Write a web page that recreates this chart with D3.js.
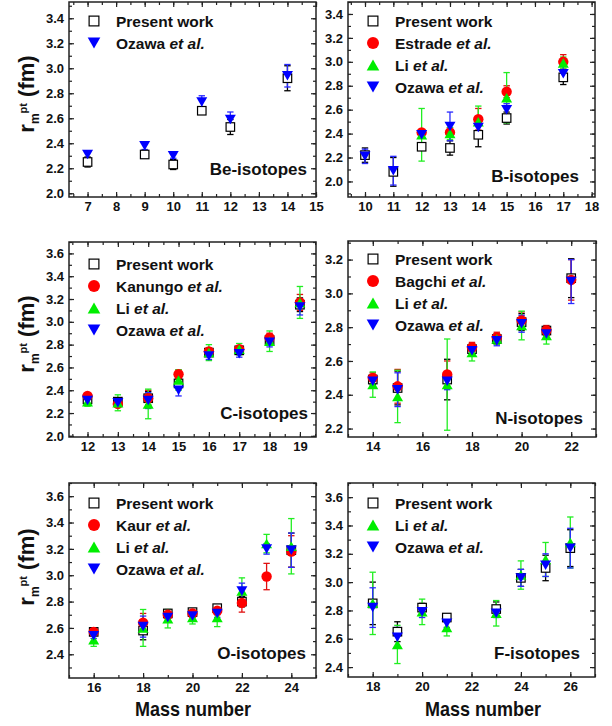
<!DOCTYPE html>
<html>
<head>
<meta charset="utf-8">
<script src="https://cdn.jsdelivr.net/npm/d3@7"></script>
<style>
  body { margin: 0; background: #fff; }
  svg { display: block; }
  text { font-family: "Liberation Sans", Arial, sans-serif; font-weight: bold; fill: #111; }
</style>
</head>
<body>
<svg id="fig" width="612" height="726"></svg>
<script>
// ---- data (point-matter radius, fm) ----
const beMass = [7, 9, 10, 11, 12, 14];
const bePresent = [2.25, 2.31, 2.23, 2.66, 2.53, 2.92];
const bePresentErr = [0.04, 0.02, 0.04, 0.02, 0.06, 0.10];
const beOzawa = [2.31, 2.38, 2.30, 2.73, 2.59, 2.94];
const beOzawaErr = [0.03, 0.03, 0.02, 0.05, 0.06, 0.09];

const bMass = [10, 11, 12, 13, 14, 15, 17];
const bPresent = [2.22, 2.08, 2.29, 2.28, 2.39, 2.53, 2.87];
const bPresentErr = [0.06, 0.12, 0.02, 0.06, 0.10, 0.05, 0.06];
const bEstrade = [null, null, 2.41, 2.41, 2.52, 2.75, 3.00];
const bEstradeErr = [null, null, 0.02, 0.04, 0.09, 0.05, 0.06];
const bLi = [null, null, 2.39, 2.40, 2.50, 2.70, 2.99];
const bLiErr = [null, null, 0.22, 0.05, 0.13, 0.21, 0.05];
const bOzawa = [2.21, 2.09, 2.39, 2.46, 2.45, 2.60, 2.90];
const bOzawaErr = [0.06, 0.12, 0.03, 0.12, 0.06, 0.05, 0.06];

const cMass = [12, 13, 14, 15, 16, 17, 18, 19];
const cPresent = [2.32, 2.30, 2.33, 2.46, 2.73, 2.75, 2.84, 3.15];
const cPresentErr = [0.02, 0.03, 0.06, 0.04, 0.03, 0.03, 0.04, 0.06];
const cKanungo = [2.35, 2.28, 2.33, 2.54, 2.74, 2.76, 2.86, 3.17];
const cKanungoErr = [0.02, 0.03, 0.07, 0.04, 0.03, 0.03, 0.04, 0.07];
const cLi = [2.30, 2.29, 2.28, 2.49, 2.73, 2.76, 2.83, 3.17];
const cLiErr = [0.04, 0.07, 0.13, 0.09, 0.07, 0.05, 0.09, 0.14];
const cOzawa = [2.31, 2.29, 2.31, 2.40, 2.70, 2.72, 2.82, 3.13];
const cOzawaErr = [0.02, 0.02, 0.07, 0.05, 0.03, 0.03, 0.04, 0.07];

const nMass = [14, 15, 17, 18, 19, 20, 21, 22];
const nPresent = [2.49, 2.44, 2.49, 2.67, 2.73, 2.83, 2.78, 3.09];
const nPresentErr = [0.03, 0.10, 0.12, 0.03, 0.03, 0.05, 0.02, 0.115];
const nBagchi = [2.50, 2.45, 2.52, 2.68, 2.74, 2.84, 2.78, 3.08];
const nBagchiErr = [0.03, 0.10, 0.08, 0.03, 0.03, 0.05, 0.03, 0.12];
const nLi = [2.46, 2.39, 2.46, 2.65, 2.73, 2.81, 2.75, null];
const nLiErr = [0.075, 0.155, 0.27, 0.05, 0.03, 0.085, 0.05, null];
const nOzawa = [2.48, 2.43, 2.48, 2.66, 2.72, 2.82, 2.76, 3.07];
const nOzawaErr = [0.03, 0.10, 0.05, 0.03, 0.03, 0.05, 0.03, 0.13];

const oMass = [16, 18, 19, 20, 21, 22, 23, 24];
const oPresent = [2.57, 2.58, 2.71, 2.72, 2.75, 2.80, null, 3.19];
const oPresentErr = [0.02, 0.07, 0.02, 0.02, 0.02, 0.04, null, 0.13];
const oKaur = [2.57, 2.64, 2.70, 2.71, 2.73, 2.79, 2.99, 3.18];
const oKaurErr = [0.02, 0.07, 0.03, 0.03, 0.03, 0.07, 0.10, 0.12];
const oLi = [2.51, 2.60, 2.67, 2.68, 2.68, 2.88, 3.24, 3.22];
const oLiErr = [0.05, 0.14, 0.07, 0.05, 0.07, 0.10, 0.07, 0.21];
const oOzawa = [2.54, 2.61, 2.68, 2.69, 2.71, 2.88, 3.20, 3.19];
const oOzawaErr = [0.02, 0.08, 0.03, 0.03, 0.03, 0.06, 0.04, 0.13];

const fMass = [18, 19, 20, 21, 23, 24, 25, 26];
const fPresent = [2.85, 2.65, 2.82, 2.75, 2.81, 3.03, 3.10, 3.24];
const fPresentErr = [0.15, 0.07, 0.03, 0.02, 0.05, 0.06, 0.09, 0.13];
const fLi = [2.85, 2.56, 2.79, 2.68, 2.78, 3.05, 3.16, 3.28];
const fLiErr = [0.22, 0.135, 0.09, 0.06, 0.09, 0.10, 0.12, 0.18];
const fOzawa = [2.82, 2.61, 2.79, 2.71, 2.78, 3.03, 3.12, 3.24];
const fOzawaErr = [0.14, 0.07, 0.04, 0.03, 0.03, 0.06, 0.08, 0.14];

// ---- series styles ----
const PRESENT = {marker: 'square', color: '#000', name: ['Present work']};
const OZAWA = {marker: 'down', color: '#0000ff', bar: '#2a2aff', name: ['Ozawa ', 'et al.']};
const LI = {marker: 'up', color: '#00ee00', bar: '#22ee22', name: ['Li ', 'et al.']};
const red = n => ({marker: 'circle', color: '#ff0000', bar: '#e01010', name: [n + ' ', 'et al.']});

const zip = (m, v, e) => m.map((a, i) => ({a: a, v: v[i], e: e[i]})).filter(d => d.v != null);

const panels = [
  {box: [69, 2, 316, 197], x: [6.35, 15], y: [1.97, 3.53], xStep: 1, xTicks: d3.range(7, 15.01, 1), yTicks: d3.range(2.0, 3.41, 0.2),
   title: 'Be-isotopes', titleDx: 9, titleDy: 22, legTop: 19, ylab: 94,
   series: [[PRESENT, zip(beMass, bePresent, bePresentErr)], [OZAWA, zip(beMass, beOzawa, beOzawaErr)]]},
  {box: [348, 2, 595, 197], x: [9.4, 18.12], y: [1.87, 3.5], xStep: 1, xTicks: d3.range(10, 18.01, 1), yTicks: d3.range(2.0, 3.41, 0.2),
   title: 'B-isotopes', titleDx: 16, titleDy: 15, legTop: 19,
   series: [[PRESENT, zip(bMass, bPresent, bPresentErr)], [red('Estrade'), zip(bMass, bEstrade, bEstradeErr)],
            [LI, zip(bMass, bLi, bLiErr)], [OZAWA, zip(bMass, bOzawa, bOzawaErr)]]},
  {box: [69, 242, 316, 437], x: [11.39, 19.53], y: [1.99, 3.70], xStep: 1, xTicks: d3.range(12, 19.01, 1), yTicks: d3.range(2.0, 3.61, 0.2),
   title: 'C-isotopes', titleDx: 8, titleDy: 18, legTop: 22, ylab: 334,
   series: [[PRESENT, zip(cMass, cPresent, cPresentErr)], [red('Kanungo'), zip(cMass, cKanungo, cKanungoErr)],
            [LI, zip(cMass, cLi, cLiErr)], [OZAWA, zip(cMass, cOzawa, cOzawaErr)]]},
  {box: [348, 241, 596, 437], x: [13, 23], y: [2.15, 3.31], xStep: 2, xTicks: d3.range(14, 22.01, 2), yTicks: d3.range(2.2, 3.21, 0.2),
   title: 'N-isotopes', titleDx: 13, titleDy: 13, legTop: 18,
   series: [[PRESENT, zip(nMass, nPresent, nPresentErr)], [red('Bagchi'), zip(nMass, nBagchi, nBagchiErr)],
            [LI, zip(nMass, nLi, nLiErr)], [OZAWA, zip(nMass, nOzawa, nOzawaErr)]]},
  {box: [69, 483, 316, 678], x: [15, 25], y: [2.22, 3.70], xStep: 2, xTicks: d3.range(16, 24.01, 2), yTicks: d3.range(2.4, 3.61, 0.2),
   title: 'O-isotopes', titleDx: 10, titleDy: 19, legTop: 20, ylab: 567, xlab: 193,
   series: [[PRESENT, zip(oMass, oPresent, oPresentErr)], [red('Kaur'), zip(oMass, oKaur, oKaurErr)],
            [LI, zip(oMass, oLi, oLiErr)], [OZAWA, zip(oMass, oOzawa, oOzawaErr)]]},
  {box: [348, 483, 595, 677], x: [17, 27], y: [2.33, 3.70], xStep: 2, xTicks: d3.range(18, 26.01, 2), yTicks: d3.range(2.4, 3.61, 0.2),
   title: 'F-isotopes', titleDx: 15, titleDy: 18, legTop: 20, xlab: 483,
   series: [[PRESENT, zip(fMass, fPresent, fPresentErr)], [LI, zip(fMass, fLi, fLiErr)], [OZAWA, zip(fMass, fOzawa, fOzawaErr)]]}
];

const svg = d3.select('#fig');

function drawMarker(g, type, color, cx, cy, big) {
  const k = big ? 1.15 : 1;
  if (type === 'square') {
    const s = 8.5 * k;
    g.append('rect').attr('x', cx - s / 2).attr('y', cy - s / 2).attr('width', s).attr('height', s)
      .attr('fill', '#fff').attr('stroke', '#000').attr('stroke-width', 1.2);
  } else if (type === 'circle') {
    g.append('circle').attr('cx', cx).attr('cy', cy).attr('r', 5.2 * k).attr('fill', color);
  } else {
    const w = 11 * k, h = 9.5 * k;
    const pts = type === 'up'
      ? [[cx - w / 2, cy + h / 2], [cx + w / 2, cy + h / 2], [cx, cy - h / 2]]
      : [[cx - w / 2, cy - h / 2], [cx + w / 2, cy - h / 2], [cx, cy + h / 2]];
    g.append('path').attr('d', d3.line()(pts) + 'Z').attr('fill', color);
  }
}

function drawPanel(p) {
  const [x0, y0, x1, y1] = p.box;
  const x = d3.scaleLinear().domain(p.x).range([x0, x1]);
  const y = d3.scaleLinear().domain(p.y).range([y1, y0]);
  const g = svg.append('g');

  const xMinor = d3.range(Math.ceil(p.x[0] / (p.xStep / 2)) * (p.xStep / 2), p.x[1] + 1e-6, p.xStep / 2);
  const yMinor = d3.range(Math.ceil(p.y[0] * 10) / 10, p.y[1] + 1e-6, 0.1);

  const fmtY = d3.format('.1f');
  const styleAxis = a => { a.select('.domain').remove(); a.selectAll('line').attr('stroke', '#222').attr('stroke-width', 1.2); };

  // minor ticks on all four sides
  g.append('g').attr('transform', `translate(0,${y1})`).call(d3.axisBottom(x).tickValues(xMinor).tickSize(-3).tickFormat('')).call(styleAxis);
  g.append('g').attr('transform', `translate(0,${y0})`).call(d3.axisTop(x).tickValues(xMinor).tickSize(-3).tickFormat('')).call(styleAxis);
  g.append('g').attr('transform', `translate(${x0},0)`).call(d3.axisLeft(y).tickValues(yMinor).tickSize(-3).tickFormat('')).call(styleAxis);
  g.append('g').attr('transform', `translate(${x1},0)`).call(d3.axisRight(y).tickValues(yMinor).tickSize(-3).tickFormat('')).call(styleAxis);

  // major ticks
  const bx = g.append('g').attr('transform', `translate(0,${y1})`)
    .call(d3.axisBottom(x).tickValues(p.xTicks).tickSize(-5).tickPadding(5).tickFormat(d3.format('d'))).call(styleAxis);
  bx.selectAll('text').style('font-size', '13px').attr('fill', '#111');
  g.append('g').attr('transform', `translate(0,${y0})`).call(d3.axisTop(x).tickValues(p.xTicks).tickSize(-5).tickFormat('')).call(styleAxis);
  const ly = g.append('g').attr('transform', `translate(${x0},0)`)
    .call(d3.axisLeft(y).tickValues(p.yTicks).tickSize(-5).tickPadding(5).tickFormat(fmtY)).call(styleAxis);
  ly.selectAll('text').style('font-size', '13px').attr('fill', '#111');
  g.append('g').attr('transform', `translate(${x1},0)`).call(d3.axisRight(y).tickValues(p.yTicks).tickSize(-5).tickFormat('')).call(styleAxis);

  g.append('rect').attr('x', x0).attr('y', y0).attr('width', x1 - x0).attr('height', y1 - y0)
    .attr('fill', 'none').attr('stroke', '#222').attr('stroke-width', 1.5);

  // error bars first, then markers
  const cap = 3.2;
  p.series.forEach(([s, pts]) => {
    const col = s.bar || s.color;
    pts.forEach(d => {
      const xa = x(d.a), ya = y(d.v + d.e), yb = y(d.v - d.e);
      g.append('line').attr('x1', xa).attr('x2', xa).attr('y1', ya).attr('y2', yb).attr('stroke', col).attr('stroke-width', 1.3);
      [ya, yb].forEach(yy => g.append('line').attr('x1', xa - cap).attr('x2', xa + cap).attr('y1', yy).attr('y2', yy)
        .attr('stroke', col).attr('stroke-width', 1.3));
    });
  });
  p.series.forEach(([s, pts]) => {
    pts.forEach(d => drawMarker(g, s.marker, s.color, x(d.a), y(d.v), false));
  });

  // legend
  p.series.forEach(([s], i) => {
    const ry = y0 + p.legTop + i * 22;
    drawMarker(g, s.marker, s.color, x0 + 25, ry, true);
    const t = g.append('text').attr('x', x0 + 47).attr('y', ry + 5.5).style('font-size', '15.5px');
    t.append('tspan').text(s.name[0]);
    if (s.name[1]) t.append('tspan').style('font-style', 'italic').text(s.name[1]);
  });

  // panel name
  g.append('text').attr('x', x1 - p.titleDx).attr('y', y1 - p.titleDy).attr('text-anchor', 'end')
    .style('font-size', '17px').text(p.title);

  // y-axis title on left column
  if (p.ylab) {
    const t = g.append('text').attr('transform', `translate(34,${p.ylab}) rotate(-90)`)
      .attr('text-anchor', 'middle').style('font-size', '22px');
    t.append('tspan').text('r');
    t.append('tspan').attr('dy', 5).style('font-size', '12px').text('m');
    t.append('tspan').attr('dy', -12).style('font-size', '11px').text('pt');
    t.append('tspan').attr('dy', 7).text(' (fm)');
  }
  if (p.xlab) {
    g.append('text').attr('transform', `translate(${p.xlab},716) scale(0.9,1)`).attr('text-anchor', 'middle')
      .style('font-size', '20px').text('Mass number');
  }
}

panels.forEach(drawPanel);
</script>
</body>
</html>
